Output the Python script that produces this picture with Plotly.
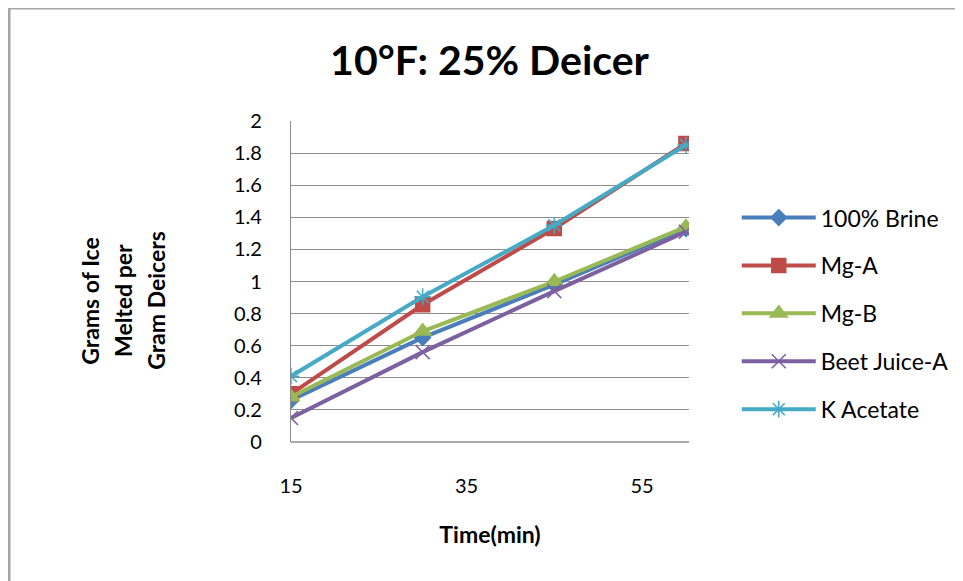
import plotly.graph_objects as go

time_min = [15, 30, 45, 60]
brine = [0.26, 0.65, 0.98, 1.33]
mg_a = [0.30, 0.855, 1.33, 1.86]
mg_b = [0.28, 0.69, 1.00, 1.34]
beet_juice_a = [0.15, 0.56, 0.94, 1.31]
k_acetate = [0.41, 0.905, 1.35, 1.85]

series = [
    ("100% Brine", brine, "#4A7EBB", "diamond", 12),
    ("Mg-A", mg_a, "#BE4B48", "square", 14),
    ("Mg-B", mg_b, "#98B954", "triangle-up", 15),
    ("Beet Juice-A", beet_juice_a, "#7D60A0", "x-thin-open", 14),
    ("K Acetate", k_acetate, "#46AAC5", "asterisk-open", 14),
]

FONT = "Lato, 'Open Sans', sans-serif"

fig = go.Figure()
for i, (name, vals, col, sym, sz) in enumerate(series):
    fig.add_trace(go.Scatter(
        x=time_min, y=vals, name=name, mode="lines+markers",
        line=dict(color=col, width=4),
        marker=dict(symbol=sym, size=sz, color=col, line=dict(color=col, width=1.5)),
        legendgroup=f"g{i}",
    ))

fig.update_layout(
    width=963, height=581,
    margin=dict(l=283, r=282, t=113, b=147),
    paper_bgcolor="white", plot_bgcolor="white",
    font=dict(family=FONT, size=20, color="#000000"),
    title=dict(text="<b>10°F: 25% Deicer</b>", x=0.5, xanchor="center",
               y=0.91, yanchor="middle", font=dict(size=41, family=FONT)),
    showlegend=True,
    legend=dict(x=1.12, xanchor="left", y=0.40, yanchor="middle",
                font=dict(size=23, family=FONT), tracegroupgap=15,
                traceorder="grouped", itemwidth=74),
    xaxis=dict(range=[15, 60.35], tick0=15, dtick=20, showgrid=False,
               showline=False, zeroline=False, ticks="",
               ticklabelstandoff=30, tickfont=dict(size=20),
               title=dict(text="<b>Time(min)</b>", font=dict(size=23), standoff=30)),
    yaxis=dict(range=[0, 2], dtick=0.2, showgrid=True, gridcolor="#8C8C8C",
               gridwidth=1.3, showline=True, linecolor="#8C8C8C", linewidth=1.3,
               zeroline=False, ticks="", ticklabelstandoff=24,
               tickfont=dict(size=20), tickformat="~g"),
    shapes=[
        dict(type="line", xref="paper", yref="paper", x0=0, x1=1, y0=0, y1=0,
             line=dict(color="#8C8C8C", width=1.3)),
        dict(type="rect", xref="paper", yref="paper", x0=-0.7085, x1=1.75,
             y0=-0.5, y1=1.352, line=dict(color="#A6A6A6", width=3)),
    ],
    annotations=[
        dict(text="<b>Grams of Ice</b>", xref="paper", yref="paper",
             x=-0.505, y=0.44, textangle=-90, showarrow=False,
             xanchor="center", yanchor="middle", font=dict(size=23, family=FONT)),
        dict(text="<b>Melted per</b>", xref="paper", yref="paper",
             x=-0.4215, y=0.44, textangle=-90, showarrow=False,
             xanchor="center", yanchor="middle", font=dict(size=23, family=FONT)),
        dict(text="<b>Gram Deicers</b>", xref="paper", yref="paper",
             x=-0.339, y=0.44, textangle=-90, showarrow=False,
             xanchor="center", yanchor="middle", font=dict(size=23, family=FONT)),
    ],
)

fig.write_html("out.html")
